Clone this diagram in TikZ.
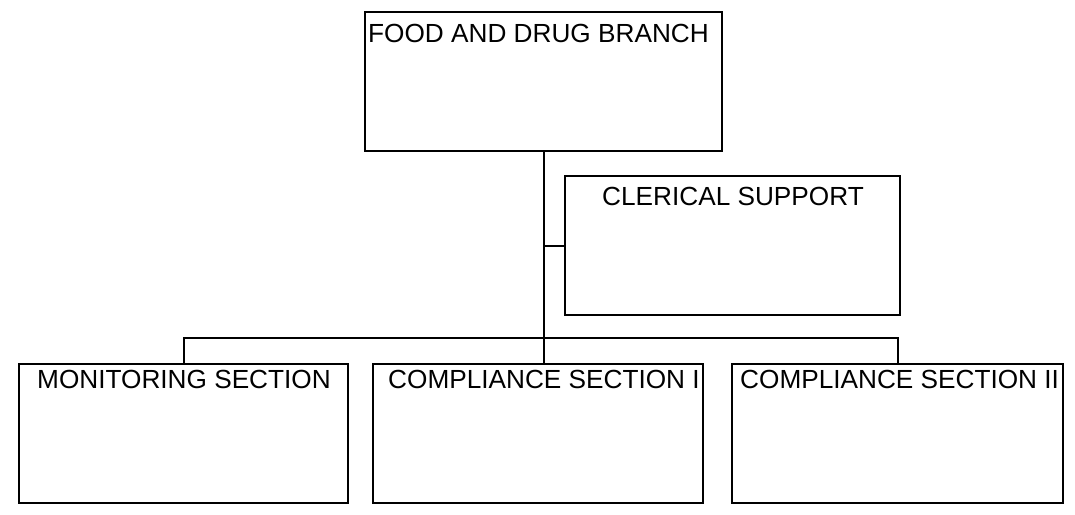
\documentclass[tikz,border=0pt]{standalone}
\usepackage{fontspec}
\setmainfont{Liberation Sans}
\begin{document}
\begin{tikzpicture}[x=1pt,y=-1pt,
  box/.style={draw=black, line width=2pt, rectangle, inner sep=0pt, minimum width=#1, minimum height=139pt},
  lbl/.style={inner sep=0pt, anchor=base west, font=\fontsize{26.2}{28}\selectfont},
  conn/.style={draw=black, line width=2pt}]
\useasboundingbox (0,0) rectangle (1075,514);
\node[box=357pt] (fdb) at (543.5,81.5) {};
\node[box=335pt] (cs) at (732.5,245.5) {};
\node[box=329pt] (mon) at (183.5,433.5) {};
\node[box=330pt] (c1) at (538,433.5) {};
\node[box=331pt] (c2) at (897.5,433.5) {};
\node[lbl] (fdbt) at (368,42) {FOOD AND DRUG BRANCH};
\node[lbl] (cst) at (602,205) {CLERICAL SUPPORT};
\node[lbl] (mont) at (37,388) {MONITORING SECTION};
\node[lbl] (c1t) at (388,388) {COMPLIANCE SECTION I};
\node[lbl] (c2t) at (740,388) {COMPLIANCE SECTION II};
\draw[conn] (fdb.south) -- (fdb.south |- c1.north);
\draw[conn] (fdb.south |- cs.west) -- (cs.west);
\draw[conn] (mon.north) -- ++(0,-25) -| (c2.north);
\end{tikzpicture}
\end{document}
